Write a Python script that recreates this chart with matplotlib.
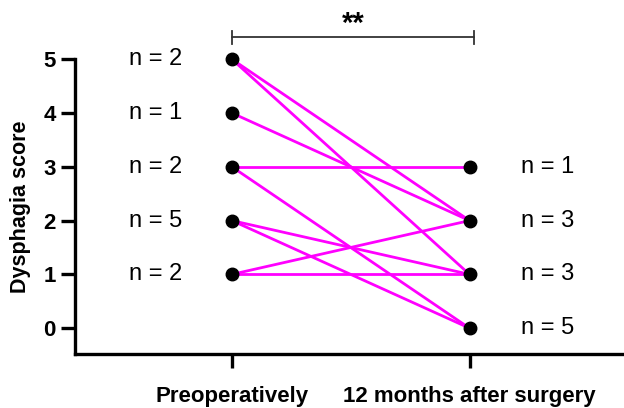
import matplotlib.pyplot as plt

plt.rcParams['font.family'] = ['Liberation Sans', 'DejaVu Sans']

# paired scores: preoperative -> 12 months after surgery
pre_scores = [5, 5, 4, 3, 3, 2, 2, 1, 1]
post_scores = [2, 1, 2, 3, 0, 1, 0, 2, 1]

# group sizes shown next to each level
pre_levels = [5, 4, 3, 2, 1]
pre_counts = [2, 1, 2, 5, 2]
post_levels = [3, 2, 1, 0]
post_counts = [1, 3, 3, 5]

groups = ["Preoperatively", "12 months after surgery"]
significance = "**"

fig = plt.figure(figsize=(6.24, 4.08), dpi=100)
ax = fig.add_axes([75 / 624, (408 - 354) / 408, 549 / 624, 354 / 408])

for a, b in zip(pre_scores, post_scores):
    ax.plot([0, 1], [a, b], color="#ff00ff", lw=2, zorder=2)

ax.plot([0] * len(pre_levels), pre_levels, "o", color="black", ms=9, zorder=3)
ax.plot([1] * len(post_levels), post_levels, "o", color="black", ms=9, zorder=3)

for lvl, n in zip(pre_levels, pre_counts):
    ax.text(-0.32, lvl, f"n = {n}", ha="center", va="center", fontsize=17)
for lvl, n in zip(post_levels, post_counts):
    ax.text(1.33, lvl, f"n = {n}", ha="center", va="center", fontsize=17)

# significance bracket
ax.plot([0, 0, 1.02, 1.02], [5.28, 5.41, 5.41, 5.28], color="#333333", lw=1.3, clip_on=False)
ax.plot([0, 0], [5.41, 5.52], color="#333333", lw=1.3, clip_on=False)
ax.plot([1.02, 1.02], [5.41, 5.52], color="#333333", lw=1.3, clip_on=False)
ax.text(0.51, 5.66, significance, ha="center", va="center", fontsize=21, fontweight="bold")

ax.set_xlim(-0.66, 1.65)
ax.set_ylim(-0.48, 6.1)
ax.set_xticks([0, 1])
ax.set_xticklabels(groups, fontsize=16, fontweight="bold")
ax.set_yticks(range(0, 6))
ax.set_yticklabels([str(i) for i in range(6)], fontsize=16, fontweight="bold")
ax.set_ylabel("Dysphagia score", fontsize=15.5, fontweight="bold", va="center")
# centre the label on the drawn spine (-0.48 .. 5)
ax.yaxis.set_label_coords(-0.1, (2.26 + 0.48) / 6.58)

for side in ["top", "right"]:
    ax.spines[side].set_visible(False)
for side in ["left", "bottom"]:
    ax.spines[side].set_linewidth(2.4)
ax.spines["left"].set_bounds(-0.48, 5)
ax.tick_params(axis="x", length=10, width=2.4, pad=13)
ax.tick_params(axis="y", length=10, width=2.4, pad=4)

fig.savefig("out.png", dpi=100)
